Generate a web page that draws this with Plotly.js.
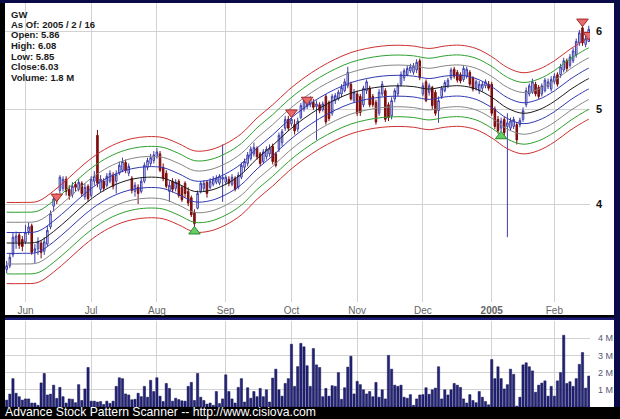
<!DOCTYPE html>
<html>
<head>
<meta charset="utf-8">
<script src="https://cdn.plot.ly/plotly-3.0.1.min.js"></script>
<style>
html,body{margin:0;padding:0;background:#000;}
#chart{width:620px;height:419px;}
</style>
</head>
<body>
<div id="chart"></div>
<script>
// ---- Data ----
// x = trading-day index, 0 = 2004-05-21 ... 186 = 2005-02-16
const monthTickIdx = [6, 27, 48, 70, 91, 112, 133, 155, 175];
const monthTickText = ['Jun', 'Jul', 'Aug', 'Sep', 'Oct', 'Nov', 'Dec', '<b>2005</b>', 'Feb'];

const openP = [3.43,3.46,3.55,3.66,3.72,3.68,3.66,3.75,3.80,3.58,3.60,3.65,3.58,3.64,3.79,3.98,4.07,4.13,4.15,4.24,
4.14,4.09,4.19,4.14,4.20,4.07,4.17,4.08,4.22,4.70,4.14,4.22,4.18,4.22,4.28,4.22,4.30,4.33,4.41,4.30,
4.25,4.12,4.16,4.12,4.22,4.36,4.40,4.43,4.47,4.50,4.36,4.30,4.12,4.22,4.15,4.22,4.16,4.20,4.12,4.06,
3.92,3.96,4.12,4.15,4.21,4.16,4.19,4.21,4.20,4.24,4.21,4.24,4.19,4.25,4.16,4.26,4.36,4.40,4.45,4.50,
4.56,4.50,4.42,4.47,4.50,4.58,4.50,4.55,4.62,4.78,4.88,4.83,4.82,4.77,4.90,5.00,5.03,5.05,5.08,5.03,
5.05,4.99,5.15,5.08,4.95,5.10,5.12,5.18,5.22,5.28,5.30,5.10,5.18,5.15,5.05,5.22,5.25,5.15,5.08,4.95,
5.18,5.22,5.05,4.92,5.12,5.18,5.30,5.38,5.42,5.47,5.45,5.48,5.60,5.18,5.33,5.20,5.26,5.20,4.98,5.15,
5.22,5.28,5.38,5.49,5.45,5.42,5.36,5.40,5.45,5.38,5.25,5.22,5.25,5.28,5.30,5.30,5.00,4.88,4.78,4.88,
4.80,4.78,4.80,4.82,4.82,4.88,5.05,5.18,5.20,5.30,5.26,5.18,5.22,5.27,5.24,5.33,5.42,5.42,5.48,5.60,
5.54,5.60,5.68,5.84,6.05,5.82,5.86];
const highP = [3.50,3.56,3.74,3.75,3.74,3.71,3.81,3.83,3.82,3.64,3.70,3.67,3.70,3.80,3.94,4.08,4.10,4.28,4.27,4.27,
4.18,4.21,4.22,4.24,4.22,4.20,4.19,4.27,4.32,4.76,4.28,4.25,4.30,4.33,4.31,4.33,4.42,4.46,4.44,4.40,
4.27,4.21,4.19,4.25,4.41,4.46,4.50,4.53,4.56,4.53,4.40,4.33,4.22,4.25,4.24,4.24,4.18,4.22,4.16,4.08,
3.95,4.13,4.22,4.23,4.23,4.25,4.27,4.28,4.29,4.60,4.28,4.27,4.29,4.27,4.31,4.41,4.45,4.52,4.58,4.62,
4.58,4.52,4.55,4.58,4.60,4.61,4.52,4.73,4.77,4.92,4.92,4.93,4.88,4.90,5.07,5.13,5.09,5.15,5.12,5.10,
5.08,5.09,5.18,5.10,5.18,5.19,5.23,5.30,5.37,5.52,5.33,5.24,5.22,5.18,5.28,5.36,5.28,5.18,5.11,5.24,
5.34,5.25,5.08,5.14,5.25,5.31,5.46,5.50,5.54,5.56,5.57,5.62,5.63,5.32,5.36,5.31,5.28,5.23,5.15,5.28,
5.35,5.38,5.51,5.52,5.48,5.45,5.54,5.52,5.48,5.40,5.36,5.34,5.33,5.36,5.34,5.33,5.03,4.92,4.90,4.91,
4.95,4.90,4.91,4.85,4.90,5.02,5.26,5.31,5.37,5.33,5.29,5.31,5.38,5.37,5.40,5.44,5.45,5.56,5.64,5.63,
5.69,5.77,5.90,6.02,6.08,5.95,6.08];
const lowP = [3.40,3.44,3.53,3.60,3.60,3.58,3.64,3.72,3.55,3.48,3.55,3.52,3.55,3.62,3.77,3.93,4.00,4.10,4.12,4.08,
4.04,4.06,4.12,4.12,4.07,4.04,4.02,4.06,4.18,4.16,4.11,4.12,4.16,4.20,4.14,4.10,4.28,4.31,4.30,4.27,
4.10,4.07,4.00,4.10,4.20,4.33,4.37,4.40,4.45,4.31,4.22,4.15,4.02,4.11,4.12,4.06,4.02,4.06,3.98,3.88,
3.79,3.95,4.10,4.12,4.06,4.14,4.17,4.19,4.18,4.02,4.18,4.17,4.17,4.12,4.14,4.24,4.32,4.37,4.43,4.47,
4.44,4.37,4.40,4.44,4.47,4.39,4.36,4.52,4.58,4.75,4.75,4.80,4.71,4.74,4.88,4.97,5.00,5.02,4.99,4.65,
4.95,4.97,4.82,4.86,4.92,5.06,5.10,5.14,5.20,5.25,5.10,5.07,4.92,4.92,5.02,5.18,5.02,5.02,4.82,4.92,
5.15,4.85,4.86,4.88,5.08,5.15,5.27,5.34,5.40,5.44,5.42,5.44,5.35,5.15,5.08,5.16,5.00,4.92,4.84,5.12,
5.20,5.25,5.35,5.37,5.32,5.31,5.33,5.37,5.27,5.21,5.22,5.18,5.21,5.25,5.22,4.92,4.77,4.72,4.74,4.70,
3.70,4.75,4.77,4.60,4.79,4.85,5.02,5.15,5.18,5.15,5.12,5.15,5.20,5.24,5.21,5.30,5.27,5.38,5.45,5.46,
5.51,5.57,5.64,5.80,5.80,5.78,5.85];
const closeP = [3.46,3.53,3.70,3.71,3.63,3.62,3.74,3.79,3.57,3.60,3.66,3.57,3.66,3.76,3.91,4.05,4.03,4.26,4.24,4.12,
4.08,4.17,4.16,4.21,4.10,4.16,4.05,4.24,4.27,4.20,4.24,4.15,4.27,4.30,4.17,4.29,4.38,4.42,4.33,4.37,
4.13,4.18,4.10,4.22,4.38,4.43,4.46,4.49,4.52,4.33,4.25,4.17,4.18,4.14,4.21,4.08,4.04,4.10,4.01,3.90,
3.82,4.10,4.20,4.20,4.10,4.22,4.24,4.25,4.27,4.26,4.26,4.20,4.26,4.14,4.28,4.38,4.42,4.49,4.55,4.57,
4.47,4.40,4.52,4.55,4.56,4.42,4.38,4.70,4.74,4.88,4.78,4.88,4.75,4.86,5.04,5.10,5.07,5.12,5.02,5.06,
4.98,5.06,4.85,4.89,5.15,5.16,5.20,5.26,5.33,5.45,5.12,5.20,4.95,4.96,5.25,5.33,5.05,5.05,4.85,5.20,
5.30,4.88,4.90,5.10,5.22,5.28,5.42,5.47,5.50,5.52,5.53,5.58,5.38,5.28,5.10,5.28,5.04,4.95,5.10,5.25,
5.32,5.35,5.48,5.40,5.35,5.34,5.50,5.49,5.30,5.24,5.33,5.30,5.30,5.33,5.25,4.95,4.80,4.75,4.86,4.73,
4.84,4.86,4.88,4.65,4.87,4.98,5.22,5.28,5.33,5.18,5.15,5.28,5.35,5.33,5.36,5.40,5.30,5.52,5.60,5.50,
5.65,5.73,5.86,5.98,5.84,5.90,6.03];
const volumeM = [0.40,0.75,1.65,0.80,0.60,0.40,0.47,0.47,0.23,0.23,0.10,1.40,1.95,0.70,0.75,1.27,0.50,1.14,0.60,0.23,
0.47,0.45,0.25,1.30,0.38,1.05,2.30,0.34,0.34,0.29,0.32,0.15,0.34,0.21,0.34,1.20,1.70,1.65,0.76,0.70,
0.42,0.45,0.80,0.60,1.20,0.57,1.55,0.90,1.70,0.63,0.32,1.37,1.08,0.34,0.51,0.43,0.36,0.34,1.20,1.43,
0.38,1.95,0.57,0.38,0.17,0.23,0.10,0.90,0.20,0.47,1.87,0.90,0.47,0.23,1.14,1.65,0.29,1.12,0.51,0.90,
0.60,1.08,0.60,1.00,0.29,1.68,2.20,1.00,0.63,1.37,1.65,3.65,1.20,2.35,3.70,3.50,2.40,1.20,3.40,2.45,
2.30,0.60,1.08,0.63,1.24,1.20,2.00,0.45,1.12,2.32,2.95,0.76,1.49,1.30,1.00,0.76,0.90,0.60,1.43,0.57,
1.00,0.47,3.00,2.20,1.27,1.20,1.27,0.57,0.51,0.72,0.10,0.47,0.70,0.72,1.12,0.74,1.00,1.10,2.34,0.47,
1.00,0.70,1.00,1.37,1.27,1.14,0.47,0.23,0.72,0.38,0.25,0.90,0.57,0.32,0.13,2.76,1.65,2.34,1.65,1.05,
1.30,2.20,1.90,0.05,0.57,2.45,2.57,2.34,2.10,0.86,1.27,1.39,1.52,0.63,1.20,0.63,1.52,2.00,4.17,1.37,
1.47,1.20,1.65,2.48,3.17,1.10,1.80];

// smoothed centre line of the envelope (read at sample points)
const bandIdx = [0,5,10,15,20,25,30,35,40,45,50,55,60,65,70,75,80,85,90,95,100,105,110,115,120,125,130,135,140,145,150,155,160,165,170,175,180,185,186];
const bandCenter = [3.65,3.65,3.66,3.75,3.87,4.00,4.11,4.19,4.24,4.26,4.25,4.19,4.12,4.13,4.19,4.29,4.45,4.59,4.75,4.89,5.01,5.11,5.19,5.24,5.27,5.28,5.27,5.24,5.27,5.28,5.24,5.14,5.01,4.95,4.99,5.09,5.23,5.35,5.37];
const bandFactors = [1.10, 1.075, 1.05, 1.025, 1.0, 0.976, 0.952, 0.930, 0.909];
const bandColors = ['#cc3030', '#2ea02e', '#858585', '#3038b0', '#1a1a1a', '#3038b0', '#858585', '#2ea02e', '#cc3030'];

// signal markers
const sellIdx = [16, 91, 96, 184, 186];
const sellPrice = [4.07, 4.96, 5.11, 6.14, 5.95];
const buyIdx = [60, 158];
const buyPrice = [3.75, 4.69];

const infoLines = ['GW', 'As Of: 2005 / 2 / 16', 'Open: 5.86', 'High: 6.08', 'Low: 5.85', 'Close:6.03', 'Volume: 1.8 M'];
const priceTicks = [4, 5, 6];
const volTicks = [1, 2, 3, 4];
const volTickText = ['1 M', '2 M', '3 M', '4 M'];
const footerText = 'Advance Stock Pattern Scanner -- http://www.cisiova.com';

// ---- Figure ----
const W = 620, H = 419;
const px = v => v / W;
const py = v => 1 - v / H;
const idx = closeP.map((_, i) => i);

const traces = [];
bandFactors.forEach((f, k) => {
  traces.push({
    type: 'scatter', mode: 'lines', x: bandIdx, y: bandCenter.map(c => c * f),
    line: {color: bandColors[k], width: 1, shape: 'spline', smoothing: 1},
    xaxis: 'x', yaxis: 'y', hoverinfo: 'skip', showlegend: false
  });
});
traces.push({
  type: 'candlestick', x: idx, open: openP, high: highP, low: lowP, close: closeP,
  xaxis: 'x', yaxis: 'y', showlegend: false, whiskerwidth: 0,
  increasing: {line: {color: '#3c3ca8', width: 1}, fillcolor: '#eeeeff'},
  decreasing: {line: {color: '#7a0a0a', width: 1}, fillcolor: '#8a1212'}
});
traces.push({
  type: 'scatter', mode: 'markers', x: sellIdx, y: sellPrice, xaxis: 'x', yaxis: 'y',
  marker: {symbol: 'triangle-down', size: 10, color: '#e86a6a', line: {color: '#a02828', width: 1}},
  showlegend: false, hoverinfo: 'skip'
});
traces.push({
  type: 'scatter', mode: 'markers', x: buyIdx, y: buyPrice, xaxis: 'x', yaxis: 'y',
  marker: {symbol: 'triangle-up', size: 10, color: '#66cc66', line: {color: '#2a8a2a', width: 1}},
  showlegend: false, hoverinfo: 'skip'
});
traces.push({
  type: 'bar', x: idx, y: volumeM, xaxis: 'x2', yaxis: 'y2', width: 0.72,
  marker: {color: '#23237a', line: {color: '#12124e', width: 0.5}},
  showlegend: false, hoverinfo: 'skip'
});

const xr = [-0.54, 186.4];
const fontFam = 'Liberation Sans, Arial, sans-serif';

const annotations = infoLines.map((t, i) => ({
  xref: 'paper', yref: 'paper', x: px(9), y: py(14 + i * 10.5),
  xanchor: 'left', yanchor: 'middle', showarrow: false, text: t,
  font: {family: fontFam, size: 9.5, color: '#1a1a1a', weight: 'bold'}
}));
annotations.push({
  xref: 'paper', yref: 'paper', x: px(3), y: py(411.5), xanchor: 'left', yanchor: 'middle',
  showarrow: false, text: footerText, font: {family: fontFam, size: 12.2, color: '#ffffff'}
});

const shapes = [
  {type: 'rect', xref: 'paper', yref: 'paper', x0: 0, x1: 1, y0: py(3), y1: 1, fillcolor: '#0a0a48', line: {width: 0}, layer: 'below'},
  {type: 'rect', xref: 'paper', yref: 'paper', x0: px(614), x1: 1, y0: py(407), y1: 1, fillcolor: '#0a0a48', line: {width: 0}, layer: 'below'},
  {type: 'rect', xref: 'paper', yref: 'paper', x0: px(5), x1: px(614), y0: py(315), y1: py(3), fillcolor: '#ffffff', line: {width: 0}, layer: 'below'},
  {type: 'rect', xref: 'paper', yref: 'paper', x0: px(5), x1: px(614), y0: py(320), y1: py(317.5), fillcolor: '#1c1c78', line: {width: 0}, layer: 'below'},
  {type: 'rect', xref: 'paper', yref: 'paper', x0: px(5), x1: px(614), y0: py(407), y1: py(320), fillcolor: '#ffffff', line: {width: 0}, layer: 'below'}
];

const layout = {
  width: W, height: H,
  margin: {l: 0, r: 0, t: 0, b: 0, pad: 0},
  paper_bgcolor: '#000000', plot_bgcolor: '#ffffff',
  showlegend: false,
  xaxis: {
    domain: [px(5), px(590)], range: xr, anchor: 'y',
    tickmode: 'array', tickvals: monthTickIdx, ticktext: monthTickText,
    showgrid: true, gridcolor: '#d2d2d2', gridwidth: 1, zeroline: false,
    ticks: '', showline: false, rangeslider: {visible: false},
    tickfont: {family: fontFam, size: 10, color: '#666666'}, ticklabelstandoff: 1
  },
  yaxis: {
    domain: [py(302), py(3)], type: 'log',
    range: [Math.log10(3.1776), Math.log10(6.4137)], anchor: 'x', side: 'right',
    tickmode: 'array', tickvals: priceTicks, ticktext: priceTicks.map(String),
    showgrid: true, gridcolor: '#d2d2d2', zeroline: false, ticks: '', showline: false,
    tickfont: {family: fontFam, size: 11, color: '#111111', weight: 'bold'}, ticklabelstandoff: 5
  },
  xaxis2: {
    domain: [px(5), px(590)], range: xr, anchor: 'y2',
    tickmode: 'array', tickvals: monthTickIdx, showticklabels: false,
    showgrid: true, gridcolor: '#d2d2d2', zeroline: false, ticks: '', showline: false
  },
  yaxis2: {
    domain: [py(407), py(321)], range: [0, 5.0], anchor: 'x2', side: 'right',
    tickmode: 'array', tickvals: volTicks, ticktext: volTickText,
    showgrid: true, gridcolor: '#d2d2d2', zeroline: false, ticks: '', showline: false,
    tickfont: {family: fontFam, size: 9, color: '#55557a'}, ticklabelstandoff: 7
  },
  shapes: shapes,
  annotations: annotations,
  bargap: 0.25
};

Plotly.newPlot('chart', traces, layout, {staticPlot: true, displayModeBar: false});
</script>
</body>
</html>
